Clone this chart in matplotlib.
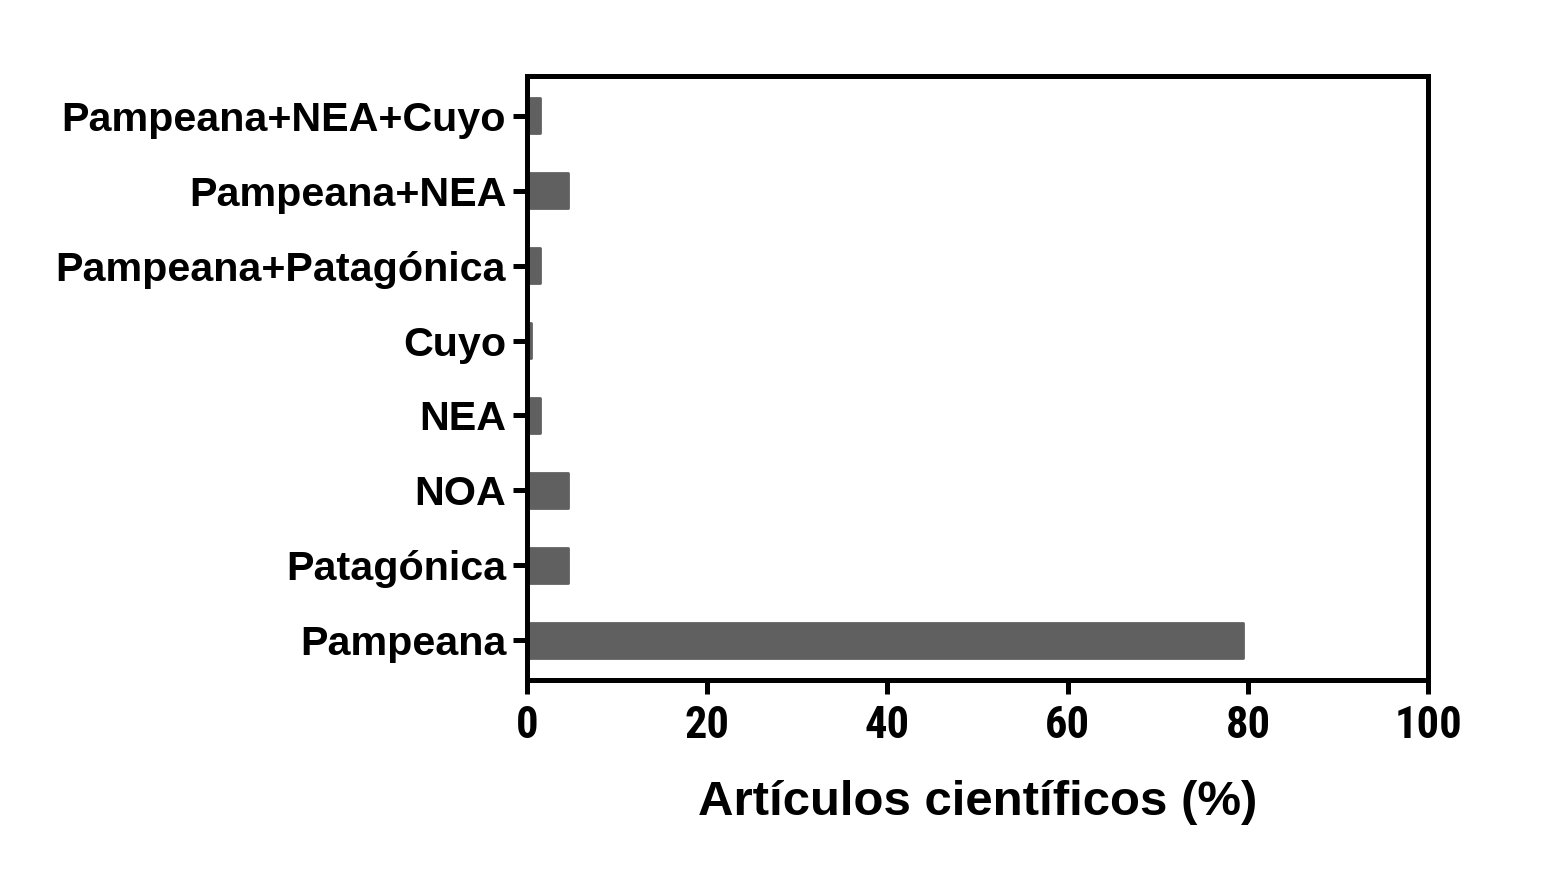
import matplotlib.pyplot as plt
import numpy as np

regiones = ["Pampeana", "Patagónica", "NOA", "NEA", "Cuyo",
            "Pampeana+Patagónica", "Pampeana+NEA", "Pampeana+NEA+Cuyo"]
porcentaje = [79.4, 4.5, 4.5, 1.5, 0.4, 1.5, 4.5, 1.5]
ticks_x = [0, 20, 40, 60, 80, 100]

plt.rcParams['font.family'] = ['Liberation Sans', 'DejaVu Sans']
plt.rcParams['font.weight'] = 'bold'

fig = plt.figure(figsize=(15.66, 8.73), dpi=100)
ax = fig.add_axes([0.3365, 0.221, 0.5755, 0.692])

y = np.arange(len(regiones))
ax.barh(y, porcentaje, height=0.47, color='#606060', edgecolor='#606060',
        linewidth=2, joinstyle='round', zorder=2)

ax.set_xlim(0, 100)
ax.set_ylim(-0.53, 7.53)
ax.set_yticks(y)
ax.set_yticklabels(regiones, fontsize=29.7, fontweight='bold')
ax.set_xticks(ticks_x)
ax.set_xticklabels([str(t) for t in ticks_x], fontsize=32, fontweight='bold',
                   family=['Roboto Condensed', 'Liberation Sans'])

for s in ax.spines.values():
    s.set_linewidth(3.6)
    s.set_zorder(3)
ax.tick_params(axis='y', length=10, width=3.6, pad=5)
ax.tick_params(axis='x', length=10, width=3.6, pad=8)

ax.set_xlabel("Artículos científicos (%)", fontsize=35.4, fontweight='bold', labelpad=24)

fig.savefig("out.png", dpi=100)
